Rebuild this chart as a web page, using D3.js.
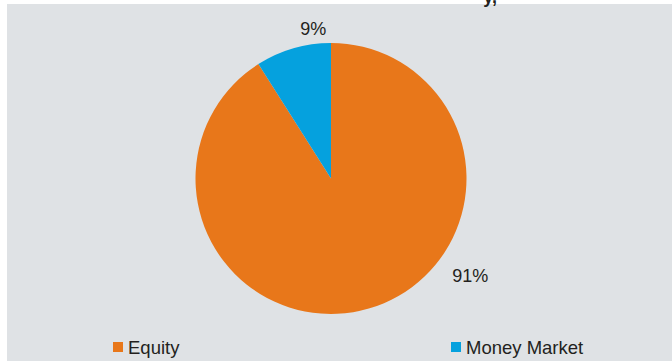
<!DOCTYPE html>
<html>
<head>
<meta charset="utf-8">
<script src="https://cdn.jsdelivr.net/npm/d3@7"></script>
<style>
  html, body { margin: 0; padding: 0; background: #ffffff; }
  svg { display: block; }
</style>
</head>
<body>
<svg id="chart" width="672" height="361"></svg>
<script>
const categories = ["Equity", "Money Market"];
const values = [91, 9];
const valueLabels = ["91%", "9%"];
const colors = ["#E8771A", "#05A1DE"];

const svg = d3.select("#chart");
const W = 672, H = 361;

// panel background
svg.append("rect").attr("x", 7).attr("y", 4).attr("width", W - 7).attr("height", H - 4)
  .attr("fill", "#DFE2E5");

// clipped title fragment (the title sits above the visible area)
svg.append("text").attr("x", 497).attr("y", 3)
  .attr("text-anchor", "end")
  .attr("font-family", "Liberation Sans, Arial, sans-serif")
  .attr("font-weight", "bold").attr("font-size", 18).attr("fill", "#231F20")
  .text("y,");

const cx = 331, cy = 178.5, r = 135.5;
const g = svg.append("g").attr("transform", `translate(${cx},${cy})`);

const pie = d3.pie().sort(null).value(d => d)(values);
const arc = d3.arc().innerRadius(0).outerRadius(r);

g.selectAll("path").data(pie).enter().append("path")
  .attr("d", arc)
  .attr("fill", (d, i) => colors[i]);

// data labels placed outside the pie
const labelPolar = [ {a: 125 * Math.PI / 180, rr: 170}, {a: -6.8 * Math.PI / 180, rr: 151} ];
g.selectAll("text.lbl").data(pie).enter().append("text")
  .attr("class", "lbl")
  .attr("x", (d, i) => labelPolar[i].rr * Math.sin(labelPolar[i].a))
  .attr("y", (d, i) => -labelPolar[i].rr * Math.cos(labelPolar[i].a))
  .attr("dy", "0.35em")
  .attr("text-anchor", "middle")
  .attr("font-family", "Liberation Sans, Arial, sans-serif")
  .attr("font-size", 18).attr("fill", "#231F20")
  .text((d, i) => valueLabels[i]);

// legend
const legendX = d3.scalePoint().domain(categories).range([113, 451]);
const lg = svg.selectAll("g.leg").data(categories).enter().append("g")
  .attr("class", "leg")
  .attr("transform", d => `translate(${legendX(d)},342)`);
lg.append("rect").attr("width", 10).attr("height", 10)
  .attr("fill", (d, i) => colors[i]);
lg.append("text").attr("x", 15).attr("y", 12)
  .attr("font-family", "Liberation Sans, Arial, sans-serif")
  .attr("font-size", 18.5).attr("fill", "#231F20")
  .text(d => d);
</script>
</body>
</html>
